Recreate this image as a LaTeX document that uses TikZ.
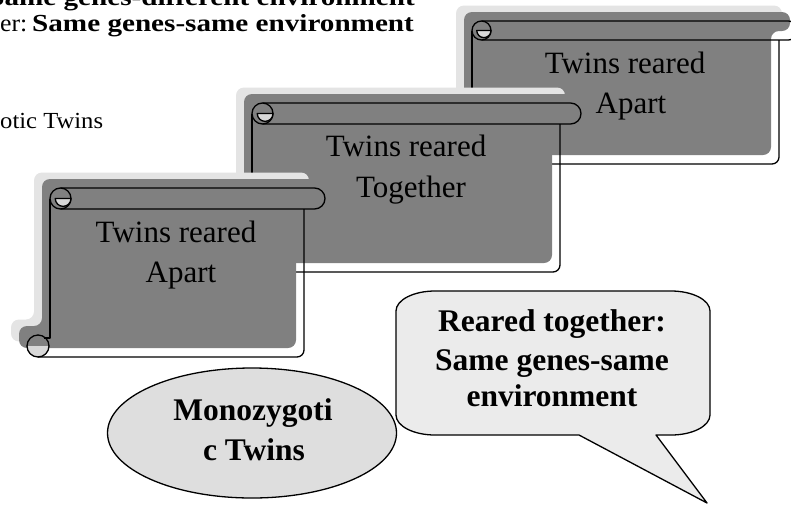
\documentclass[tikz,border=0pt]{standalone}
\usepackage{fontspec}
\setmainfont{Liberation Serif}
\usepackage{graphicx}
\usetikzlibrary{shapes.geometric}
\definecolor{scrollfill}{HTML}{808080}
\definecolor{scrollshadow}{HTML}{E4E4E4}
\definecolor{curlfill}{HTML}{D8D8D8}
\definecolor{bubblefill}{HTML}{EBEBEB}
\definecolor{ovalfill}{HTML}{DEDEDE}
\tikzset{
  outl/.style={draw=black, line width=1.3pt, line join=round},
  scrolltxt/.style={font=\fontsize{31}{37}\selectfont, inner sep=0pt, anchor=base},
  boldtxt/.style={font=\bfseries\fontsize{31.5}{38}\selectfont, inner sep=0pt, anchor=base},
  headbold/.style={font=\bfseries\fontsize{24.5}{29}\selectfont, inner sep=0pt},
  headreg/.style={font=\fontsize{24.5}{29}\selectfont, inner sep=0pt},
}
\newcommand\scrollpath{(0,\scH-22) -- (0,0) -- (\scW+\sch,0) -- (\scW+\sch,\sch) -- (\scW,\sch) -- (\scW,\scH) -- (-23,\scH) -- (-23,\scH-22) -- cycle}
\newcommand\drawscroll[5]{%
\begin{scope}[shift={(#1,#2)}]
  \pgfmathsetmacro\scW{#3}\pgfmathsetmacro\scH{#4}%
  \pgfmathsetmacro\sch{#5}\pgfmathsetmacro\scr{#5/2}%
  \fill[scrollshadow, rounded corners=8pt] [shift={(-16,-15.5)}] \scrollpath;
  \fill[scrollfill, rounded corners=8pt] [shift={(-8,-9)}] \scrollpath;
  % top roll
  \draw[outl] (\scr,0) -- ({\scW+\sch-\scr},0) arc[start angle=-90,end angle=90,radius=\scr] -- (\scr,\sch);
  % top-left curl
  \draw[outl] (\scr,\scr) circle[radius=\scr];
  \filldraw[outl, fill=curlfill] ({0.5*\scr},\scr) -- ({2*\scr},\scr) arc[start angle=0,end angle=180,radius={0.75*\scr}] -- cycle;
  % left line
  \draw[outl] (0,\scr) -- (0,{\scH-19}) -- (-6,{\scH-19});
  % bottom-left curl
  \fill[curlfill] (-1,{\scH-11}) arc[start angle=0,end angle=180,radius=11] -- cycle;
  \draw[outl] (-12,{\scH-11}) circle[radius=11];
  % bottom and right side
  \draw[outl] (-12,\scH) -- ({\scW-7},\scH) arc[start angle=90,end angle=0,radius=7] -- (\scW,\sch);
\end{scope}}

\begin{document}
\begin{tikzpicture}[x=1pt,y=-1pt]
\useasboundingbox (0,0) rectangle (791,504);

% header text
\node[headbold, anchor=base east] (hd1) at (415,5) {\scalebox{1.19}[1]{Same genes-different environment}};
\node[headreg, anchor=base west] (hd2a) at (0,31) {\scalebox{1.05}[1]{er:}};
\node[headbold, anchor=base west] (hd2) at (32,31) {\scalebox{1.19}[1]{Same genes-same environment}};
\node[font=\fontsize{23}{28}\selectfont, inner sep=0pt, anchor=base west] (hd3) at (0,128) {\scalebox{1.07}[1]{otic Twins}};

% scroll 3 (back)
\drawscroll{472}{21}{307}{143}{19}
\node[scrolltxt] (s3a) at (625,73) {Twins reared};
\node[scrolltxt] (s3b) at (631,113) {Apart};

% scroll 2 (middle)
\drawscroll{252}{103}{308}{169}{21}
\node[scrolltxt] (s2a) at (406,156) {Twins reared};
\node[scrolltxt] (s2b) at (411,197) {Together};

% scroll 1 (front)
\drawscroll{50}{188}{254}{169}{21}
\node[scrolltxt] (s1a) at (176,242) {Twins reared};
\node[scrolltxt] (s1b) at (181,282) {Apart};

% ellipse
\node[ellipse, draw=black, line width=1.3pt, fill=ovalfill, minimum width=289pt, minimum height=130pt, inner sep=0pt] (mono) at (252,433) {};
\node[boldtxt] (mz1) at (253,420) {Monozygoti};
\node[boldtxt] (mz2) at (254,460) {c Twins};

% callout
\filldraw[outl, fill=bubblefill]
  (435,291) -- (671,291) arc[start angle=-90,end angle=0,x radius=39,y radius=20]
  -- (710,415) arc[start angle=0,end angle=90,x radius=39,y radius=20]
  -- (656,435) -- (707,503) -- (579,435) -- (435,435)
  arc[start angle=90,end angle=180,x radius=39,y radius=20]
  -- (396,311) arc[start angle=180,end angle=270,x radius=39,y radius=20] -- cycle;
\node[boldtxt] (rt1) at (552,331) {Reared together:};
\node[boldtxt] (rt2) at (552,370) {Same genes-same};
\node[boldtxt] (rt3) at (552,406) {environment};
\end{tikzpicture}
\end{document}
